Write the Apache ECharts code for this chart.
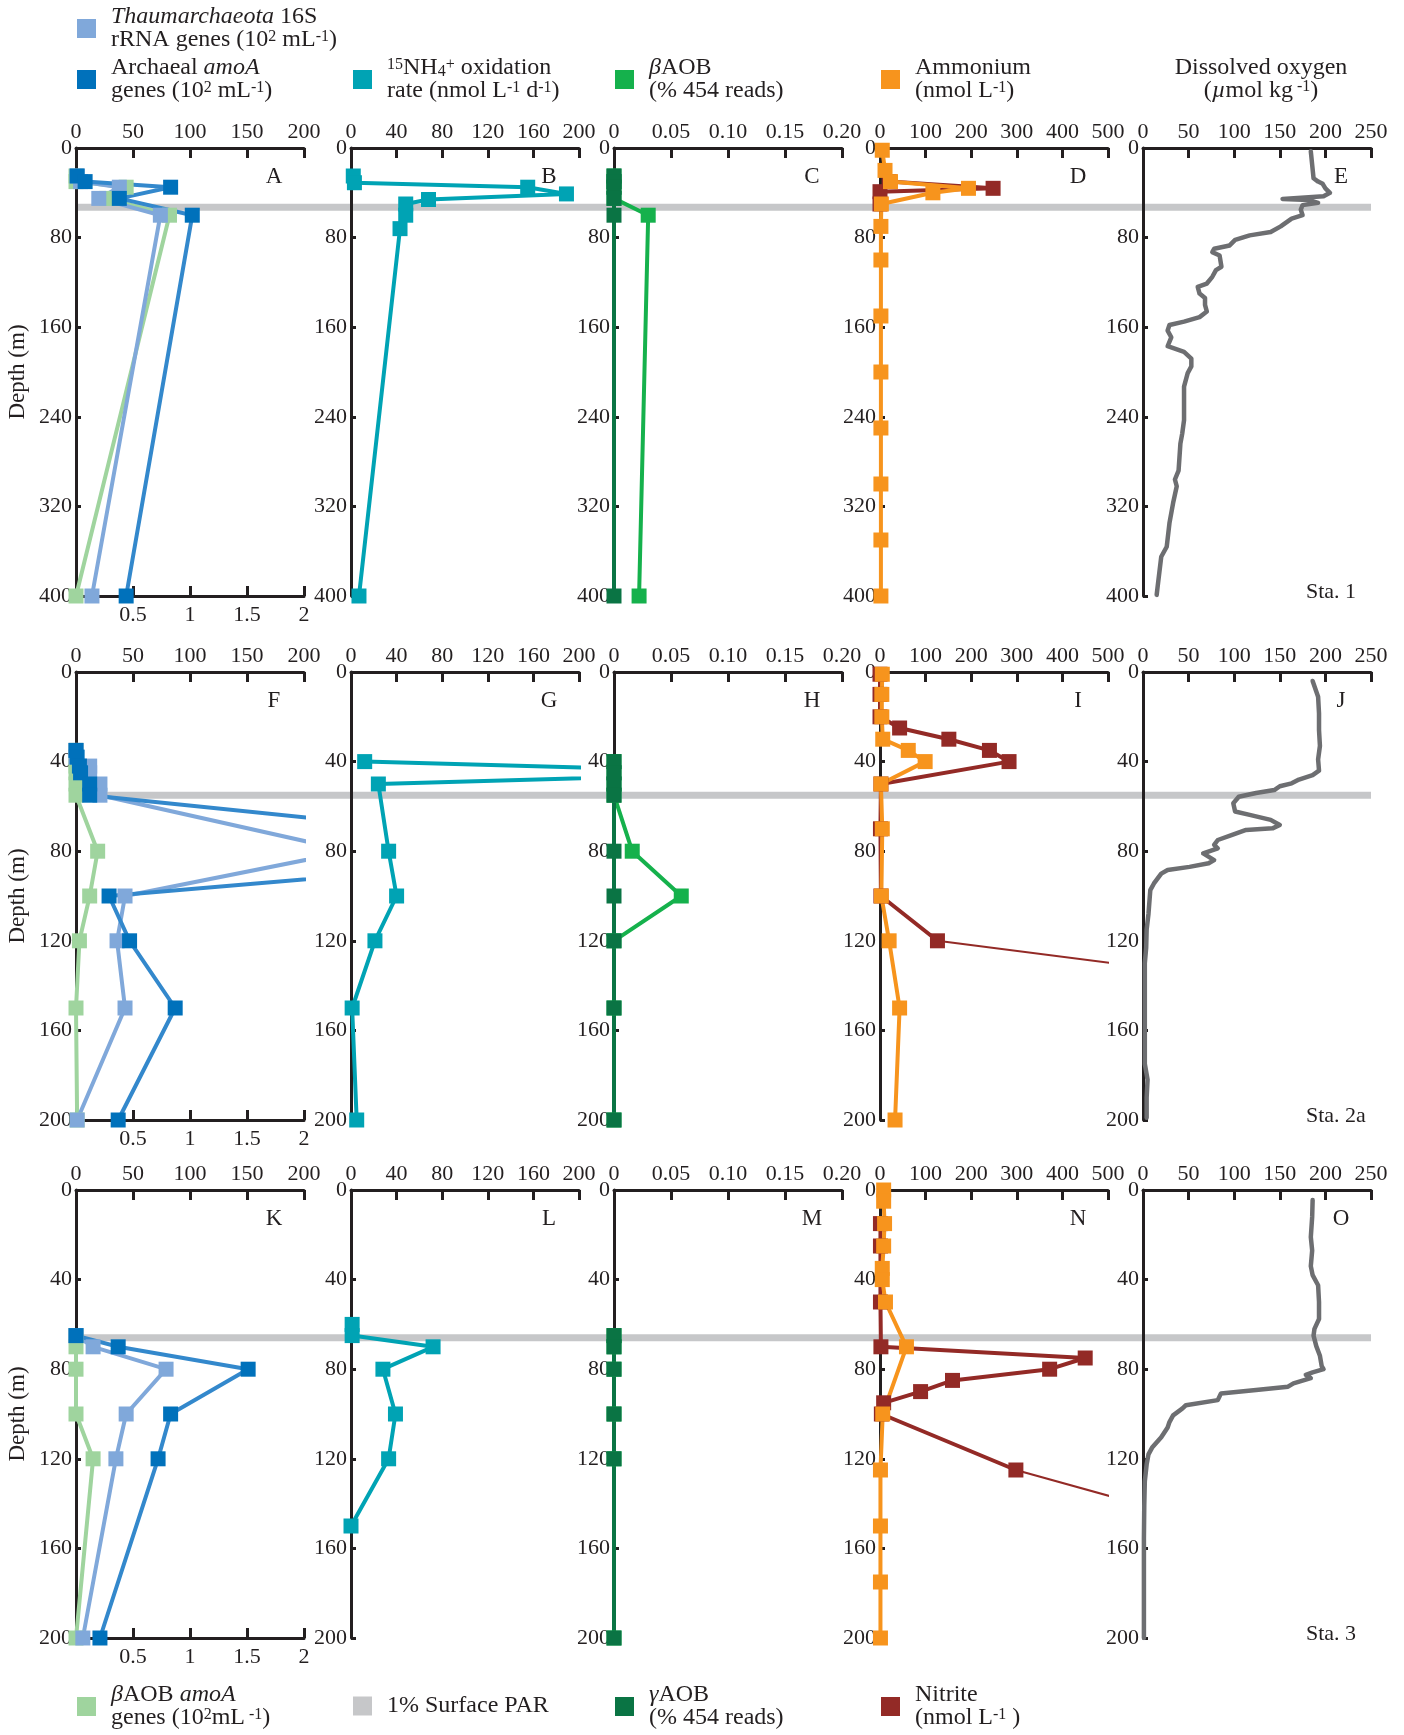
<!DOCTYPE html>
<html lang="en">
<head>
<meta charset="utf-8">
<title>Nitrification depth profiles</title>
<script src="https://cdn.jsdelivr.net/npm/echarts@6.0.0/dist/echarts.min.js"></script>
<style>
  html, body { margin: 0; padding: 0; background: #ffffff; }
  #chart { width: 1404px; height: 1735px; }
</style>
</head>
<body>
<div id="chart"></div>
<script>
// ===================== Axis ticks =====================
const geneAxisTicks      = [0, 50, 100, 150, 200];        // 10^2 mL^-1 (top axis, archaea)
const betaGeneAxisTicks  = [0, 0.5, 1, 1.5, 2];           // 10^2 mL^-1 (bottom axis, betaAOB amoA)
const oxAxisTicks        = [0, 40, 80, 120, 160, 200];    // nmol L^-1 d^-1
const readsAxisTicks     = [0, 0.05, 0.10, 0.15, 0.20];   // % 454 reads
const nutrientAxisTicks  = [0, 100, 200, 300, 400, 500];  // nmol L^-1
const oxygenAxisTicks    = [0, 50, 100, 150, 200, 250];   // umol kg^-1
const depthTicksDeep     = [0, 80, 160, 240, 320, 400];   // m
const depthTicksShallow  = [0, 40, 80, 120, 160, 200];    // m

const panelLetters  = [['A', 'B', 'C', 'D', 'E'], ['F', 'G', 'H', 'I', 'J'], ['K', 'L', 'M', 'N', 'O']];
const stationLabels = ['Sta. 1', 'Sta. 2a', 'Sta. 3'];
const parDepth      = [53, 55, 66];   // depth of 1% surface PAR (m)

// ===================== Station 1 =====================
const sta1GeneDepth = [25, 30, 35, 45, 60, 400];
const sta1Thaum     = [1, 4, 38, 20, 74, 14];
const sta1AmoA      = [1, 8, 83, 38, 102, 44];
const sta1BetaAmoA  = [0, 0, 0.44, 0.27, 0.82, 0];
const sta1OxDepth   = [25, 31, 35, 41, 46, 50, 60, 72, 400];
const sta1Ox        = [2, 3, 155, 189, 68, 48, 48, 43, 7];
const sta1AobDepth  = [25, 30, 35, 45, 60, 400];
const sta1BetaAOB   = [0, 0, 0, 0, 0.030, 0.022];
const sta1GammaAOB  = [0, 0, 0, 0, 0, 0];
const sta1NH4Depth  = [2, 20, 30, 36, 40, 50, 70, 100, 150, 200, 250, 300, 350, 400];
const sta1NH4       = [5, 11, 23, 194, 116, 3, 2, 2, 2, 2, 2, 2, 2, 2];
const sta1NO2Depth  = [30, 36, 39, 50];
const sta1NO2       = [20, 248, 0, 0];
const sta1DoDepth   = [3, 27, 30, 32, 36, 40, 43, 45.5, 46.5, 49, 51, 55, 60, 63, 70, 75, 78, 82, 87, 90,
                       93, 96, 106, 109, 115, 121, 124, 130, 134, 140, 146, 151, 155, 158, 163, 169, 177, 182, 188, 195,
                       201, 213, 228, 243, 255, 264, 288, 296, 302, 317, 335, 356, 365, 392, 399];
const sta1Do        = [184, 187, 192, 197, 200, 205, 198, 153, 182, 192, 175, 173, 175, 163, 151, 140, 117, 101, 95, 78,
                       76, 84, 86, 80, 76, 70, 60, 62, 68, 68, 70, 62, 45, 29, 27, 31, 27, 45, 53, 53,
                       49, 45, 45, 45, 43, 41, 39, 35, 37, 33, 29, 26, 20, 16, 15];

// ===================== Station 2a =====================
const sta2GeneDepth = [35, 38, 42, 45, 50, 55, 80, 100, 120, 150, 200];
const sta2Thaum     = [0, 0, 12, 12, 21, 21, 240, 43, 36, 43, 1];
const sta2AmoA      = [0, 1, 3, 4, 12, 12, 490, 29, 47, 87, 37];
const sta2BetaAmoA  = [0, 0, 0, 0, 0, 0, 0.19, 0.12, 0.03, 0, 0.01];
const sta2OxDepth   = [40, 45, 50, 80, 100, 120, 150, 200];
const sta2Ox        = [12, 370, 24, 33, 40, 21, 1, 5];
const sta2AobDepth  = [40, 45, 50, 55, 80, 100, 120, 150, 200];
const sta2BetaAOB   = [0, 0, 0, 0, 0.016, 0.059, 0, 0, 0];
const sta2GammaAOB  = [0, 0, 0, 0, 0, 0, 0, 0, 0];
const sta2NH4Depth  = [1, 10, 20, 30, 35, 40, 50, 70, 100, 120, 150, 200];
const sta2NH4       = [5, 4, 4, 6, 62, 99, 2, 5, 3, 20, 43, 33];
const sta2NO2Depth  = [1, 10, 20, 25, 30, 35, 40, 50, 70, 100, 120];
const sta2NO2       = [0, 0, 0, 43, 151, 240, 283, 2, 1, 2, 126];
const sta2NO2OffDepth = [150];
const sta2NO2Off      = [1280];
const sta2DoDepth   = [4, 11, 18.5, 26, 33, 39, 44, 46, 48, 49.7, 51, 52.7, 54, 55.7, 58.6, 62.3, 63.8, 66, 68.3, 69.8,
                       70.5, 72.8, 75, 77.2, 78.7, 81, 84, 85.4, 87, 88.4, 90, 94.4, 97.4, 108, 115, 123, 130, 145, 160, 175,
                       182, 190, 199];
const sta2Do        = [186, 192, 193, 193, 194, 192, 193, 186, 171, 163, 150, 144, 124, 105, 99, 101, 117, 140, 150, 142,
                       113, 97, 82, 78, 82, 66, 78, 72, 51, 27, 20, 12, 8, 6, 4, 3.5, 2, 2, 2, 2,
                       5, 4, 4];

// ===================== Station 3 =====================
const sta3GeneDepth = [65, 70, 80, 100, 120, 200];
const sta3Thaum     = [0, 15, 79, 44, 35, 6];
const sta3AmoA      = [0, 37, 151, 83, 72, 21];
const sta3BetaAmoA  = [0, 0, 0, 0, 0.15, 0];
const sta3OxDepth   = [60, 65, 70, 80, 100, 120, 150];
const sta3Ox        = [1, 1, 72, 28, 39, 33, 0];
const sta3AobDepth  = [65, 70, 80, 100, 120, 200];
const sta3BetaAOB   = [0, 0, 0, 0, 0, 0];
const sta3GammaAOB  = [0, 0, 0, 0, 0, 0];
const sta3NH4Depth  = [0, 5, 15, 25, 35, 40, 50, 70, 100, 125, 150, 175, 200];
const sta3NH4       = [8, 8, 10, 8, 5, 5, 12, 58, 6, 1, 1, 1, 1];
const sta3NO2Depth  = [15, 25, 50, 70, 75, 80, 85, 90, 95, 100, 125];
const sta3NO2       = [1, 1, 1, 2, 450, 372, 159, 89, 8, 3, 298];
const sta3NO2OffDepth = [150];
const sta3NO2Off      = [740];
const sta3DoDepth   = [4.5, 12, 21, 27, 34, 38, 42.5, 50, 57.6, 62, 65, 69.7, 74, 78.7, 80, 81.4, 82.5, 84, 86.3, 87.8,
                       89.3, 90.8, 93.8, 96.1, 97.6, 100.6, 103.6, 106, 110.4, 115, 118, 122.5, 130, 140.6, 155.7, 170.8, 186, 200];
const sta3Do        = [186, 185.5, 184, 185.5, 184, 186, 192, 193, 193, 188, 187, 190, 194, 196, 198, 186, 178.5, 184, 165, 159,
                       124, 85.5, 82, 47, 43, 33, 29, 27, 20, 10, 6, 4, 2, 1.4, 1, 1, 1, 1];

// ===================== Per-station bundles =====================
const STATIONS = [
  { depthTicks: depthTicksDeep,
    geneDepth: sta1GeneDepth, thaum: sta1Thaum, amoA: sta1AmoA, betaAmoA: sta1BetaAmoA,
    oxDepth: sta1OxDepth, ox: sta1Ox,
    aobDepth: sta1AobDepth, betaAOB: sta1BetaAOB, gammaAOB: sta1GammaAOB,
    nh4Depth: sta1NH4Depth, nh4: sta1NH4, no2Depth: sta1NO2Depth, no2: sta1NO2,
    no2OffDepth: [], no2Off: [],
    doDepth: sta1DoDepth, dox: sta1Do },
  { depthTicks: depthTicksShallow,
    geneDepth: sta2GeneDepth, thaum: sta2Thaum, amoA: sta2AmoA, betaAmoA: sta2BetaAmoA,
    oxDepth: sta2OxDepth, ox: sta2Ox,
    aobDepth: sta2AobDepth, betaAOB: sta2BetaAOB, gammaAOB: sta2GammaAOB,
    nh4Depth: sta2NH4Depth, nh4: sta2NH4, no2Depth: sta2NO2Depth, no2: sta2NO2,
    no2OffDepth: sta2NO2OffDepth, no2Off: sta2NO2Off,
    doDepth: sta2DoDepth, dox: sta2Do },
  { depthTicks: depthTicksShallow,
    geneDepth: sta3GeneDepth, thaum: sta3Thaum, amoA: sta3AmoA, betaAmoA: sta3BetaAmoA,
    oxDepth: sta3OxDepth, ox: sta3Ox,
    aobDepth: sta3AobDepth, betaAOB: sta3BetaAOB, gammaAOB: sta3GammaAOB,
    nh4Depth: sta3NH4Depth, nh4: sta3NH4, no2Depth: sta3NO2Depth, no2: sta3NO2,
    no2OffDepth: sta3NO2OffDepth, no2Off: sta3NO2Off,
    doDepth: sta3DoDepth, dox: sta3Do }
];

// ===================== Styling and layout =====================
const FONT = 'Liberation Serif';
const INK = '#231f20';
const COLOR = {
  thaum: '#80a8da', amoA: '#0071bb', amoALine: '#3388cc', betaAmoA: '#9fd49e',
  ox: '#00a3b4', betaAOB: '#15b14c', gammaAOB: '#0a7444',
  nh4: '#f7941d', no2: '#932a26', dox: '#6d6e71', par: '#c6c7c9'
};
const COL_LEFT = [76, 351, 614, 880, 1143];
const ROW_TOP  = [148, 672, 1190];
const PANEL_W = 228, PANEL_H = 448;
const PAR_LEFT = 78, PAR_RIGHT = 1371;

const NAMES = {
  thaum: 'Thaumarchaeota 16S rRNA genes',
  amoA: 'Archaeal amoA genes',
  betaAmoA: 'βAOB amoA genes',
  ox: '15NH4+ oxidation rate',
  betaAOB: 'βAOB',
  gammaAOB: 'γAOB',
  nh4: 'Ammonium',
  no2: 'Nitrite',
  dox: 'Dissolved oxygen',
  par: '1% Surface PAR'
};

const grids = [], xAxes = [], yAxes = [], series = [], graphics = [];

const axisRange = ticks => ({ min: ticks[0], max: ticks[ticks.length - 1], interval: ticks[1] - ticks[0] });
const axisLineStyle = { show: true, onZero: false, lineStyle: { color: INK, width: 3 } };
const tickLabel = { color: INK, fontFamily: FONT, fontSize: 22 };

function addGrid(left, top, width, height) {
  grids.push({ left, top, width, height, containLabel: false, outerBoundsMode: 'none' });
  return grids.length - 1;
}
function addTopAxis(gridIndex, ticks, formatter) {
  const ax = {
    gridIndex, type: 'value', position: 'top', ...axisRange(ticks),
    axisLine: axisLineStyle,
    axisTick: { show: true, inside: true, length: 10, lineStyle: { color: INK, width: 3 } },
    axisLabel: { ...tickLabel, margin: 5 },
    splitLine: { show: false }, z: 1
  };
  if (formatter) ax.axisLabel.formatter = formatter;
  xAxes.push(ax);
  return xAxes.length - 1;
}
function addBottomAxis(gridIndex, ticks) {
  xAxes.push({
    gridIndex, type: 'value', position: 'bottom', ...axisRange(ticks),
    axisLine: axisLineStyle,
    axisTick: { show: true, inside: true, length: 10, lineStyle: { color: INK, width: 3 } },
    axisLabel: { ...tickLabel, margin: 8, showMinLabel: false },
    splitLine: { show: false }, z: 1
  });
  return xAxes.length - 1;
}
function addDepthAxis(gridIndex, ticks, withName) {
  yAxes.push({
    gridIndex, type: 'value', inverse: true, ...axisRange(ticks),
    axisLine: axisLineStyle,
    axisTick: { show: true, inside: true, length: 5, lineStyle: { color: INK, width: 3 } },
    axisLabel: { ...tickLabel, margin: 4 },
    splitLine: { show: false },
    name: withName ? 'Depth (m)' : '', nameLocation: 'middle', nameGap: 47,
    nameTextStyle: { color: INK, fontFamily: FONT, fontSize: 23 },
    z: 1
  });
  return yAxes.length - 1;
}
function profile(name, xi, yi, depths, values, color, extra) {
  series.push(Object.assign({
    name, type: 'line', xAxisIndex: xi, yAxisIndex: yi,
    data: depths.map((d, i) => [values[i], d]),
    symbol: 'rect', symbolSize: 15, showSymbol: true,
    itemStyle: { color }, lineStyle: { color, width: 4 },
    clip: true, silent: true, animation: false, z: 2
  }, extra || {}));
}

STATIONS.forEach((st, r) => {
  const top = ROW_TOP[r];

  // 1% surface PAR: one horizontal band across the whole row
  const pg = addGrid(PAR_LEFT, top, PAR_RIGHT - PAR_LEFT, PANEL_H);
  xAxes.push({ gridIndex: pg, type: 'value', min: 0, max: 1, show: false });
  const pxi = xAxes.length - 1;
  yAxes.push({ gridIndex: pg, type: 'value', inverse: true, ...axisRange(st.depthTicks), show: false });
  const pyi = yAxes.length - 1;
  series.push({
    name: NAMES.par, type: 'line', xAxisIndex: pxi, yAxisIndex: pyi,
    data: [[0, parDepth[r]], [1, parDepth[r]]], symbol: 'none',
    itemStyle: { color: COLOR.par }, lineStyle: { color: COLOR.par, width: 7 },
    silent: true, animation: false, z: 0
  });

  const panelGrid = COL_LEFT.map(left => addGrid(left, top, PANEL_W, PANEL_H));

  // Column 1: gene abundances
  {
    const g = panelGrid[0];
    const xt = addTopAxis(g, geneAxisTicks);
    const xb = addBottomAxis(g, betaGeneAxisTicks);
    const yi = addDepthAxis(g, st.depthTicks, true);
    profile(NAMES.betaAmoA, xb, yi, st.geneDepth, st.betaAmoA, COLOR.betaAmoA);
    profile(NAMES.thaum, xt, yi, st.geneDepth, st.thaum, COLOR.thaum);
    profile(NAMES.amoA, xt, yi, st.geneDepth, st.amoA, COLOR.amoA,
      { lineStyle: { color: COLOR.amoALine, width: 4 } });
  }
  // Column 2: 15NH4+ oxidation rate
  {
    const g = panelGrid[1];
    const xt = addTopAxis(g, oxAxisTicks);
    const yi = addDepthAxis(g, st.depthTicks, false);
    profile(NAMES.ox, xt, yi, st.oxDepth, st.ox, COLOR.ox);
  }
  // Column 3: AOB read fractions
  {
    const g = panelGrid[2];
    const xt = addTopAxis(g, readsAxisTicks, v => (v === 0 ? '0' : v.toFixed(2)));
    const yi = addDepthAxis(g, st.depthTicks, false);
    profile(NAMES.betaAOB, xt, yi, st.aobDepth, st.betaAOB, COLOR.betaAOB);
    profile(NAMES.gammaAOB, xt, yi, st.aobDepth, st.gammaAOB, COLOR.gammaAOB);
  }
  // Column 4: nitrite and ammonium
  {
    const g = panelGrid[3];
    const xt = addTopAxis(g, nutrientAxisTicks);
    const yi = addDepthAxis(g, st.depthTicks, false);
    profile(NAMES.no2, xt, yi, st.no2Depth, st.no2, COLOR.no2);
    if (st.no2OffDepth.length) {
      // segment running to the next sample, which lies beyond the axis
      const last = st.no2Depth.length - 1;
      profile(NAMES.no2, xt, yi,
        [st.no2Depth[last]].concat(st.no2OffDepth), [st.no2[last]].concat(st.no2Off), COLOR.no2,
        { symbol: 'none', showSymbol: false, lineStyle: { color: COLOR.no2, width: 2 } });
    }
    profile(NAMES.nh4, xt, yi, st.nh4Depth, st.nh4, COLOR.nh4);
  }
  // Column 5: dissolved oxygen profile
  {
    const g = panelGrid[4];
    const xt = addTopAxis(g, oxygenAxisTicks);
    const yi = addDepthAxis(g, st.depthTicks, false);
    profile(NAMES.dox, xt, yi, st.doDepth, st.dox, COLOR.dox,
      { symbol: 'none', showSymbol: false, lineStyle: { color: COLOR.dox, width: 4.5, join: 'round', cap: 'round' } });
  }

  // Panel letters and station tag
  panelLetters[r].forEach((letter, c) => {
    graphics.push({
      type: 'text', x: COL_LEFT[c] + PANEL_W - 30, y: top + 29, silent: true,
      style: { text: letter, fontFamily: FONT, fontSize: 23, fill: INK, align: 'center', verticalAlign: 'middle' }
    });
  });
  graphics.push({
    type: 'text', x: 1306, y: top + PANEL_H - 4, silent: true,
    style: { text: stationLabels[r], fontFamily: FONT, fontSize: 22, fill: INK, align: 'left', verticalAlign: 'middle' }
  });
});

// ===================== Legends =====================
const LEG_FS = 24, LEG_LH = 23;
const legendRich = {
  i:   { fontFamily: FONT, fontSize: LEG_FS, fontStyle: 'italic', color: INK },
  sup: { fontFamily: FONT, fontSize: 16, color: INK, verticalAlign: 'top', lineHeight: 16 },
  sub: { fontFamily: FONT, fontSize: 16, color: INK, verticalAlign: 'bottom', lineHeight: 16 }
};
function legendItem(name, text, left, top) {
  return {
    data: [{ name, icon: 'rect' }], left, top, padding: 0,
    itemWidth: 19, itemHeight: 19, selectedMode: false,
    itemStyle: { borderWidth: 0 },
    formatter: () => text,
    textStyle: { fontFamily: FONT, fontSize: LEG_FS, color: INK, lineHeight: LEG_LH,
                 padding: [0, 0, 0, 10], rich: legendRich }
  };
}
const legends = [
  legendItem(NAMES.thaum, '{i|Thaumarchaeota} 16S\nrRNA genes (10{sup|2} mL{sup|-1})', 77, 5),
  legendItem(NAMES.amoA, 'Archaeal {i|amoA}\ngenes (10{sup|2} mL{sup|-1})', 77, 56),
  legendItem(NAMES.ox, '{sup|15}NH{sub|4}{sup|+} oxidation\nrate (nmol L{sup|-1} d{sup|-1})', 353, 56),
  legendItem(NAMES.betaAOB, '{i|β}AOB\n(% 454 reads)', 615, 56),
  legendItem(NAMES.nh4, 'Ammonium\n(nmol L{sup|-1})', 881, 56),
  legendItem(NAMES.betaAmoA, '{i|β}AOB {i|amoA}\ngenes (10{sup|2}mL{sup| -1})', 77, 1683),
  legendItem(NAMES.par, '1% Surface PAR', 353, 1694),
  legendItem(NAMES.gammaAOB, '{i|γ}AOB\n(% 454 reads)', 615, 1683),
  legendItem(NAMES.no2, 'Nitrite\n(nmol L{sup|-1} )', 881, 1683)
];

graphics.push({
  type: 'text', x: 1261, y: 79, silent: true,
  style: {
    text: 'Dissolved oxygen\n({i|µ}mol kg{sup| -1})',
    fontFamily: FONT, fontSize: LEG_FS, lineHeight: LEG_LH, fill: INK, align: 'center', verticalAlign: 'middle',
    rich: {
      i:   { fontFamily: FONT, fontSize: LEG_FS, fontStyle: 'italic', fill: INK },
      sup: { fontFamily: FONT, fontSize: 16, fill: INK, verticalAlign: 'top', lineHeight: 16 }
    }
  }
});

const option = {
  animation: false,
  backgroundColor: '#ffffff',
  textStyle: { fontFamily: FONT },
  grid: grids,
  xAxis: xAxes,
  yAxis: yAxes,
  legend: legends,
  series,
  graphic: graphics
};

const chart = echarts.init(document.getElementById('chart'), null, { renderer: 'canvas' });
chart.setOption(option);
</script>
</body>
</html>
